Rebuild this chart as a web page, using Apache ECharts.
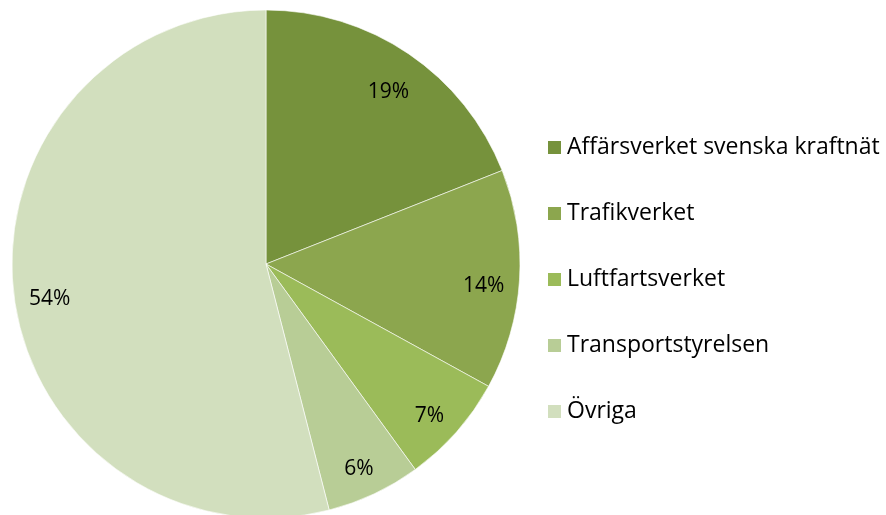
<!DOCTYPE html>
<html>
<head>
<meta charset="utf-8">
<script src="https://cdn.jsdelivr.net/npm/echarts@6/dist/echarts.min.js"></script>
<style>
	html, body { margin: 0; padding: 0; background: #fff; }
	#chart1 { width: 886px; height: 515px; }
</style>
</head>
<body>
<div id="chart1"></div>
<script>
var names = ['Affärsverket svenska kraftnät', 'Trafikverket', 'Luftfartsverket', 'Transportstyrelsen', 'Övriga'];
var values = [19, 14, 7, 6, 54];
var colors = ['#76923c', '#8ca64e', '#9bbb59', '#b8cd96', '#d2dfbe'];

function getChart1(){
	var chart = echarts.init(document.getElementById('chart1'));
	var data = names.map(function(n, i){
		return {name: n, value: values[i]};
	});
	var option = {
	    color: colors,
	    animation: false,
	    legend: {
	        orient: 'vertical',
	        left: 546,
	        top: 136,
	        padding: 0,
	        icon: 'rect',
	        itemWidth: 15,
	        itemHeight: 15,
	        itemGap: 43,
	        data: names,
	        textStyle: {
	            color: '#000',
	            fontFamily: 'Open Sans',
	            fontSize: 23,
	            lineHeight: 20
	        }
	    },
	    series: [
	        {
	            name: 'pie',
	            type: 'pie',
	            center: [266, 264],
	            radius: [0, 254],
	            startAngle: 90,
	            clockwise: true,
	            itemStyle: { borderColor: '#fff', borderWidth: 0.6 },
	            label: { show: false },
	            labelLine: { show: false },
	            emphasis: { disabled: true },
	            data: data
	        },
	        {
	            name: 'labels',
	            type: 'pie',
	            silent: true,
	            center: [266, 264],
	            radius: [176, 254],
	            startAngle: 90,
	            clockwise: true,
	            itemStyle: { color: 'rgba(0,0,0,0)' },
	            label: {
	                show: true,
	                position: 'inside',
	                formatter: '{c}%',
	                color: '#000',
	                fontFamily: 'Open Sans',
	                fontSize: 21,
	                offset: [0, 8]
	            },
	            labelLine: { show: false },
	            emphasis: { disabled: true },
	            legendHoverLink: false,
	            data: data
	        }
	    ]
	};
	chart.setOption(option);
}

getChart1();
</script>
</body>
</html>
